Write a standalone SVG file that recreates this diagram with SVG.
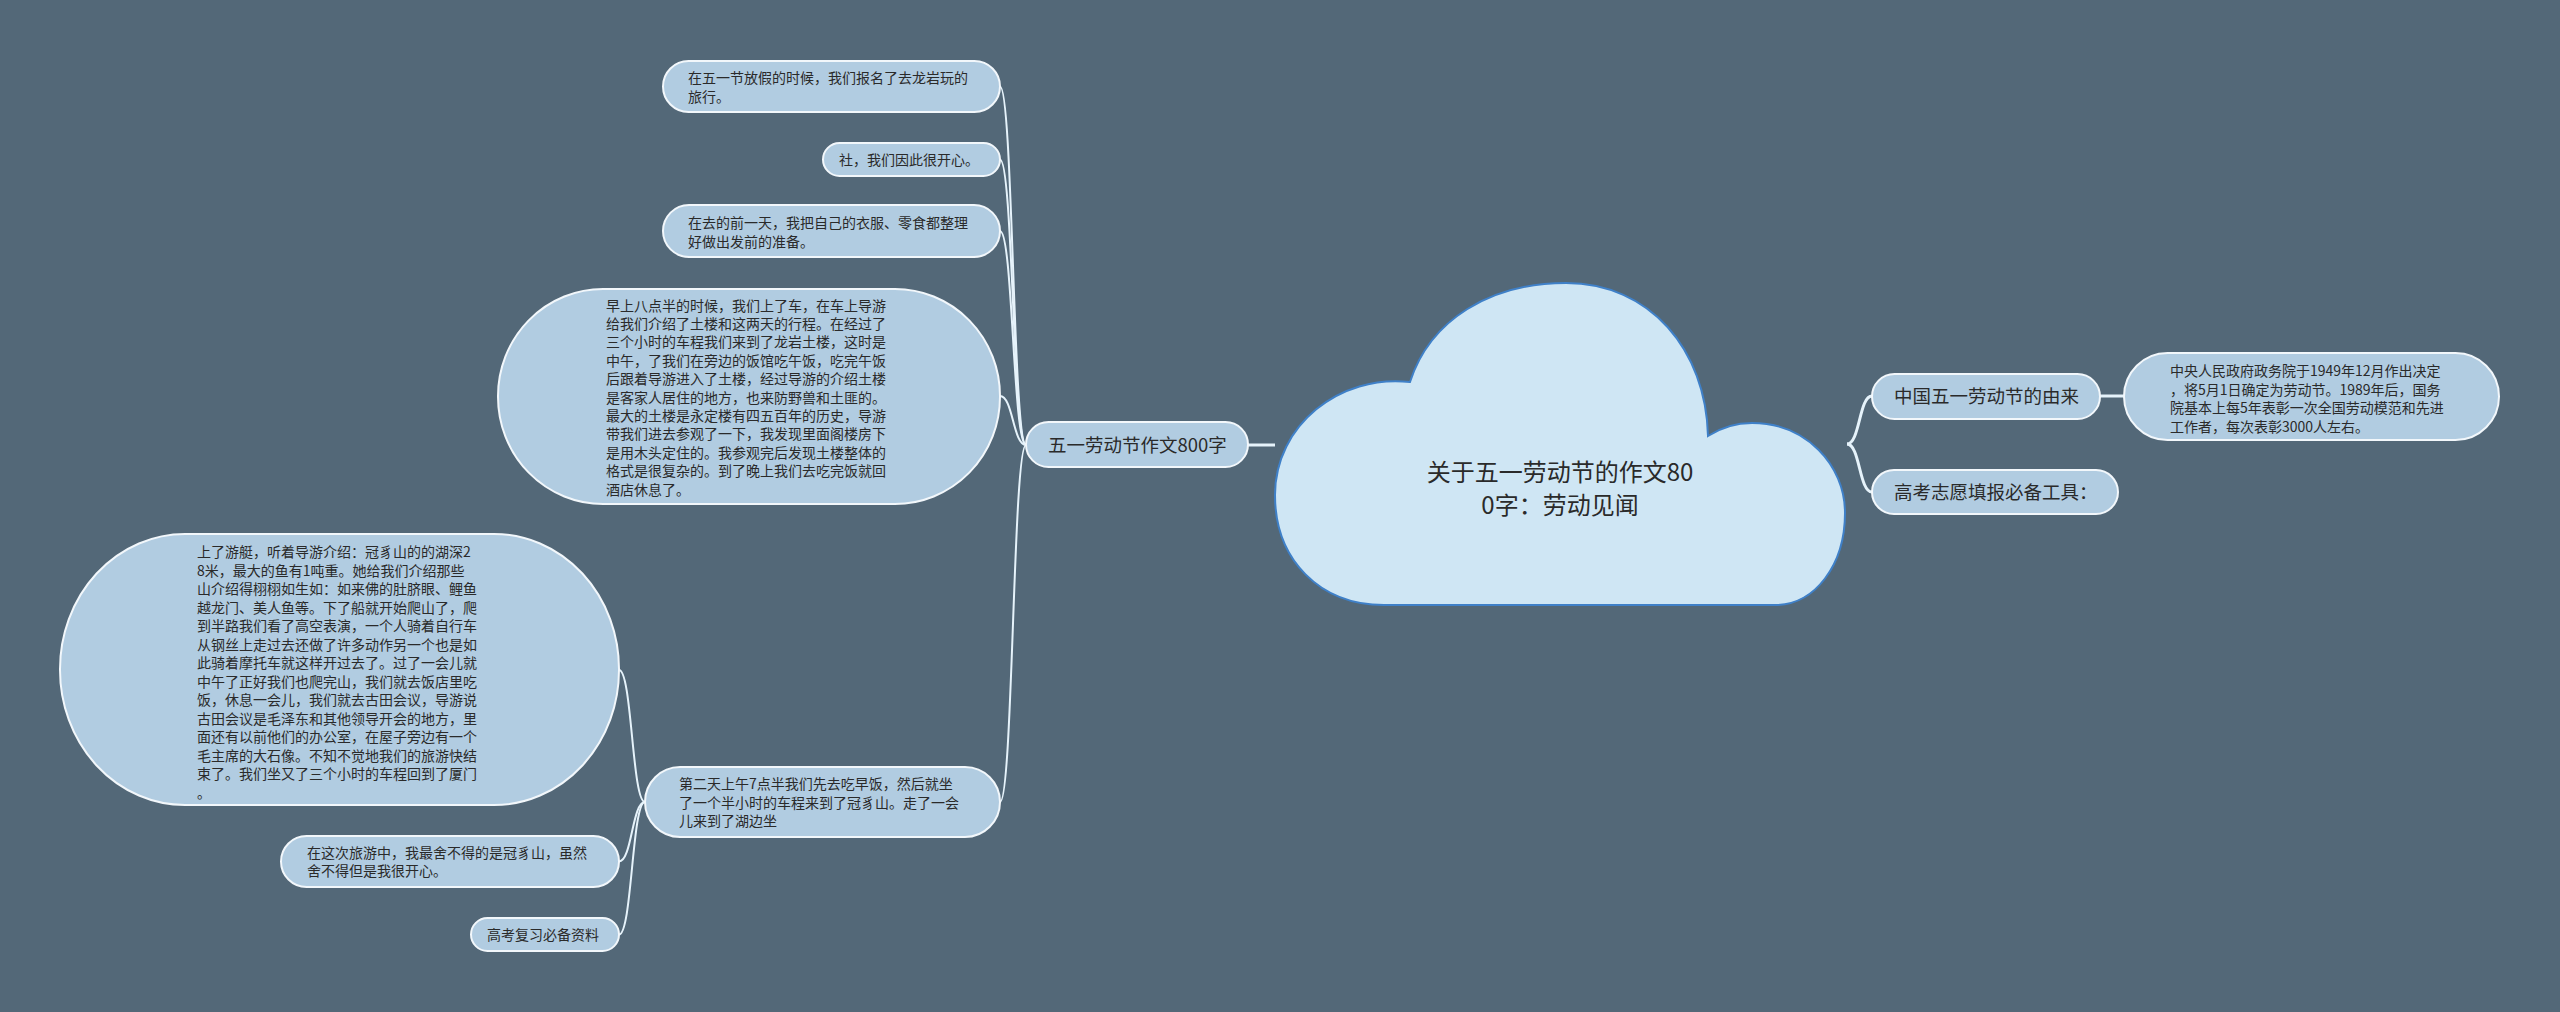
<svg xmlns="http://www.w3.org/2000/svg" width="2560" height="1012" viewBox="0 0 2560 1012">
<style>
.bg{fill:#536878}
.nd{fill:#b1cce1;stroke:#f2f7fb;stroke-width:2}
.t{font-family:"Noto Sans CJK SC","Noto Sans",sans-serif;fill:#2a2a2a}
.s{font-size:14px}
.m{font-size:18.5px}
.c{font-size:24px;text-anchor:middle}
.ln{fill:none;stroke:#e6f3fb;stroke-width:2}
.lm{fill:none;stroke:#e6f3fb;stroke-width:3}
</style>
<rect class="bg" x="0" y="0" width="2560" height="1012"/>
<g id="connectors">
<path class="lm" d="M1248,445 L1275,445"/>
<path class="lm" d="M1847,444 C1860,444 1859,396 1872,396"/>
<path class="lm" d="M1847,444 C1860,444 1859,492 1872,492"/>
<path class="lm" d="M2100,396 L2124,396"/>
<path class="ln" d="M1026,445 C1013,445 1013,86.5 1000,86.5"/>
<path class="ln" d="M1026,445 C1013,445 1013,159.5 1000,159.5"/>
<path class="ln" d="M1026,445 C1013,445 1013,231 1000,231"/>
<path class="ln" d="M1026,445 C1013,445 1013,396 1000,396"/>
<path class="ln" d="M1026,445 C1013,445 1013,802 1000,802"/>
<path class="ln" d="M645,802 C632,802 632,670 619,670"/>
<path class="ln" d="M645,802 C632,802 632,861.5 619,861.5"/>
<path class="ln" d="M645,802 C632,802 632,934.5 619,934.5"/>
</g>
<g id="center">
<path d="M1384,605 C1320,605 1275,560 1275,495 C1275,425 1340,374 1410,382 C1430,320 1490,283 1566,283 C1650,283 1706,350 1708,436 C1722,427 1738,423 1752,423 C1806,423 1845,465 1845,513 C1845,565 1815,605 1775,605 Z" fill="#cfe6f4" stroke="#3f80c8" stroke-width="2"/>
<text class="t c" x="1560" y="480.5">关于五一劳动节的作文80</text>
<text class="t c" x="1560" y="513.5">0字：劳动见闻</text>
</g>
<g id="branch-left">
<rect class="nd" x="1026" y="422" width="222" height="45" rx="22.5"/>
<text class="t m" x="1048" y="451.5">五一劳动节作文800字</text>
</g>
<g id="n1">
<rect class="nd" x="663" y="61" width="337" height="51" rx="25.5"/>
<text class="t s" x="688" y="83"><tspan x="688">在五一节放假的时候，我们报名了去龙岩玩的</tspan><tspan x="688" dy="18.5">旅行。</tspan></text>
</g>
<g id="n2">
<rect class="nd" x="823" y="143" width="177" height="33" rx="16.5"/>
<text class="t s" x="839" y="165">社，我们因此很开心。</text>
</g>
<g id="n3">
<rect class="nd" x="663" y="205" width="337" height="52" rx="26"/>
<text class="t s" x="688" y="228"><tspan x="688">在去的前一天，我把自己的衣服、零食都整理</tspan><tspan x="688" dy="18.5">好做出发前的准备。</tspan></text>
</g>
<g id="n4">
<rect class="nd" x="498" y="289" width="502" height="215" rx="105" ry="107"/>
<text class="t s" x="606" y="310.5"><tspan x="606">早上八点半的时候，我们上了车，在车上导游</tspan><tspan x="606" dy="18.4">给我们介绍了土楼和这两天的行程。在经过了</tspan><tspan x="606" dy="18.4">三个小时的车程我们来到了龙岩土楼，这时是</tspan><tspan x="606" dy="18.4">中午，了我们在旁边的饭馆吃午饭，吃完午饭</tspan><tspan x="606" dy="18.4">后跟着导游进入了土楼，经过导游的介绍土楼</tspan><tspan x="606" dy="18.4">是客家人居住的地方，也来防野兽和土匪的。</tspan><tspan x="606" dy="18.4">最大的土楼是永定楼有四五百年的历史，导游</tspan><tspan x="606" dy="18.4">带我们进去参观了一下，我发现里面阁楼房下</tspan><tspan x="606" dy="18.4">是用木头定住的。我参观完后发现土楼整体的</tspan><tspan x="606" dy="18.4">格式是很复杂的。到了晚上我们去吃完饭就回</tspan><tspan x="606" dy="18.4">酒店休息了。</tspan></text>
</g>
<g id="n5">
<rect class="nd" x="60" y="534" width="559" height="271" rx="125" ry="135"/>
<text class="t s" x="197" y="557"><tspan x="197">上了游艇，听着导游介绍：冠豸山的的湖深2</tspan><tspan x="197" dy="18.5">8米，最大的鱼有1吨重。她给我们介绍那些</tspan><tspan x="197" dy="18.5">山介绍得栩栩如生如：如来佛的肚脐眼、鲤鱼</tspan><tspan x="197" dy="18.5">越龙门、美人鱼等。下了船就开始爬山了，爬</tspan><tspan x="197" dy="18.5">到半路我们看了高空表演，一个人骑着自行车</tspan><tspan x="197" dy="18.5">从钢丝上走过去还做了许多动作另一个也是如</tspan><tspan x="197" dy="18.5">此骑着摩托车就这样开过去了。过了一会儿就</tspan><tspan x="197" dy="18.5">中午了正好我们也爬完山，我们就去饭店里吃</tspan><tspan x="197" dy="18.5">饭，休息一会儿，我们就去古田会议，导游说</tspan><tspan x="197" dy="18.5">古田会议是毛泽东和其他领导开会的地方，里</tspan><tspan x="197" dy="18.5">面还有以前他们的办公室，在屋子旁边有一个</tspan><tspan x="197" dy="18.5">毛主席的大石像。不知不觉地我们的旅游快结</tspan><tspan x="197" dy="18.5">束了。我们坐又了三个小时的车程回到了厦门</tspan><tspan x="197" dy="18.5">。</tspan></text>
</g>
<g id="n6">
<rect class="nd" x="645" y="767" width="355" height="70" rx="35"/>
<text class="t s" x="679" y="789"><tspan x="679">第二天上午7点半我们先去吃早饭，然后就坐</tspan><tspan x="679" dy="18.5">了一个半小时的车程来到了冠豸山。走了一会</tspan><tspan x="679" dy="18.5">儿来到了湖边坐</tspan></text>
</g>
<g id="n7">
<rect class="nd" x="281" y="836" width="338" height="51" rx="25.5"/>
<text class="t s" x="307" y="857.5"><tspan x="307">在这次旅游中，我最舍不得的是冠豸山，虽然</tspan><tspan x="307" dy="18.5">舍不得但是我很开心。</tspan></text>
</g>
<g id="n8">
<rect class="nd" x="471" y="918" width="148" height="33" rx="16.5"/>
<text class="t s" x="487" y="939.5">高考复习必备资料</text>
</g>
<g id="r1">
<rect class="nd" x="1872" y="374" width="228" height="45" rx="22.5"/>
<text class="t m" x="1894" y="403">中国五一劳动节的由来</text>
</g>
<g id="r1d">
<rect class="nd" x="2124" y="353" width="375" height="87" rx="43.5"/>
<text class="t s" x="2170" y="376"><tspan x="2170">中央人民政府政务院于1949年12月作出决定</tspan><tspan x="2170" dy="18.5">，将5月1日确定为劳动节。1989年后，国务</tspan><tspan x="2170" dy="18.5">院基本上每5年表彰一次全国劳动模范和先进</tspan><tspan x="2170" dy="18.5">工作者，每次表彰3000人左右。</tspan></text>
</g>
<g id="r2">
<rect class="nd" x="1872" y="470" width="246" height="44" rx="22"/>
<text class="t m" x="1894" y="498.5">高考志愿填报必备工具：</text>
</g>
</svg>
